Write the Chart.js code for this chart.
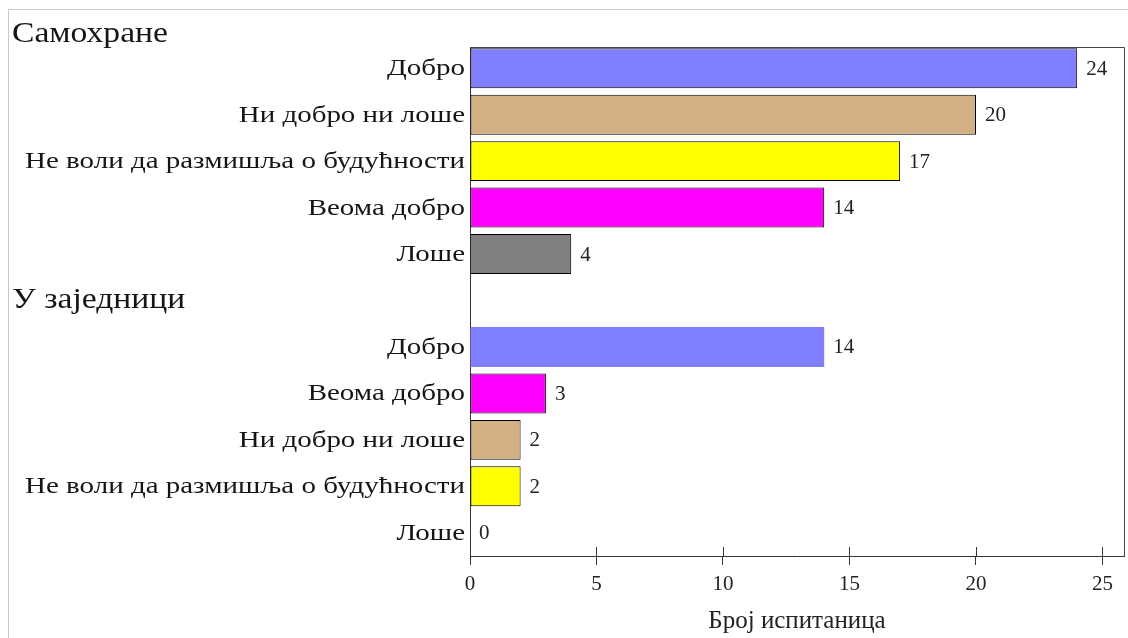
<!DOCTYPE html>
<html>
<head>
<meta charset="utf-8">
<script src="https://cdn.jsdelivr.net/npm/chart.js@4/dist/chart.umd.min.js"></script>
<style>
  html, body { margin: 0; padding: 0; background: #fff; }
  #wrap { width: 1128px; height: 638px; }
</style>
</head>
<body>
<div id="wrap"><canvas id="chart" width="1128" height="638"></canvas></div>
<script>
//Data
const groupTitles = ["Самохране", "У заједници"];
const singleLabels = ["Добро", "Ни добро ни лоше", "Не воли да размишља о будућности", "Веома добро", "Лоше"];
const singleValues = [24, 20, 17, 14, 4];
const singleColors = ["#8080ff", "#d2b083", "#ffff00", "#ff00ff", "#808080"];
const coupleLabels = ["Добро", "Веома добро", "Ни добро ни лоше", "Не воли да размишља о будућности", "Лоше"];
const coupleValues = [14, 3, 2, 2, 0];
const coupleColors = ["#8080ff", "#ff00ff", "#d2b083", "#ffff00", "#808080"];
const coupleBorders = [0, 1, 1, 1, 1];
const xTicks = [0, 5, 10, 15, 20, 25];
const xTitle = "Број испитаница";

const serif = "'Liberation Serif', 'DejaVu Serif', serif";

//Rows: first group, empty row for the second header, second group
const labels = [...singleLabels, "", ...coupleLabels];
const values = [...singleValues, null, ...coupleValues];
const colors = [...singleColors, "#fff", ...coupleColors];
const borders = [1, 1, 1, 1, 1, 0, ...coupleBorders];

//the original text is set a bit wider than Liberation Serif
function wideText(ctx, text, x, y, stretch) {
    ctx.save();
    ctx.translate(x, y);
    ctx.scale(stretch, 1);
    ctx.fillText(text, 0, 0);
    ctx.restore();
}

//Plugin for headers, labels, frame and inner tick marks
const extras = {
    id: "extras",
    beforeDraw(chart) {
        const ctx = chart.ctx;
        ctx.save();
        ctx.strokeStyle = "#c8c8c8";
        ctx.lineWidth = 1;
        ctx.beginPath();
        ctx.moveTo(8.5, 638);
        ctx.lineTo(8.5, 9.5);
        ctx.lineTo(1128, 9.5);
        ctx.stroke();
        ctx.restore();
    },
    afterDraw(chart) {
        const ctx = chart.ctx;
        const area = chart.chartArea;
        const x = chart.scales.x;
        const y = chart.scales.y;
        const frameTop = area.top + 2.5;
        ctx.save();

        //white out the axis stub above the frame
        ctx.fillStyle = "#fff";
        ctx.fillRect(area.left - 1, area.top - 1, 3, 3);

        //frame top and right
        ctx.strokeStyle = "#444";
        ctx.lineWidth = 1;
        ctx.beginPath();
        ctx.moveTo(area.left, frameTop);
        ctx.lineTo(area.right + 0.5, frameTop);
        ctx.lineTo(area.right + 0.5, area.bottom);
        ctx.stroke();

        //inner part of x ticks
        ctx.strokeStyle = "#333";
        xTicks.forEach((t) => {
            const px = Math.round(x.getPixelForValue(t)) + 0.5;
            ctx.beginPath();
            ctx.moveTo(px, area.bottom);
            ctx.lineTo(px, area.bottom - 9);
            ctx.stroke();
        });

        //category labels
        ctx.fillStyle = "#151515";
        ctx.font = "23px " + serif;
        ctx.textAlign = "right";
        ctx.textBaseline = "middle";
        labels.forEach((lab, i) => {
            if (!lab) return;
            wideText(ctx, lab, area.left - 5, y.getPixelForTick(i) + 1, 1.26);
        });

        //group headers
        ctx.textAlign = "left";
        ctx.font = "30px " + serif;
        wideText(ctx, groupTitles[0], 12, area.top - 11, 1.12);
        wideText(ctx, groupTitles[1], 12, y.getPixelForValue(5), 1.12);

        //value labels
        ctx.fillStyle = "#222";
        ctx.font = "21px " + serif;
        const meta = chart.getDatasetMeta(0);
        meta.data.forEach((bar, i) => {
            if (values[i] === null) return;
            ctx.fillText(String(values[i]), bar.x + 9, bar.y + 1);
        });
        ctx.restore();
    }
};

new Chart(document.getElementById("chart"), {
    type: "bar",
    data: {
        labels: labels,
        datasets: [
            {
                data: values,
                backgroundColor: colors,
                borderColor: "#000",
                borderWidth: borders,
                borderSkipped: false,
                barPercentage: 0.86,
                categoryPercentage: 1
            }
        ]
    },
    options: {
        indexAxis: "y",
        responsive: false,
        animation: false,
        layout: { padding: { top: 45, right: 4, bottom: 0, left: 0 } },
        plugins: {
            legend: { display: false },
            tooltip: { enabled: false }
        },
        scales: {
            x: {
                min: 0,
                max: 25.85,
                afterFit: (scale) => { scale.height = 82; },
                afterBuildTicks: (scale) => {
                    scale.ticks = xTicks.map((v) => ({ value: v }));
                },
                grid: {
                    drawOnChartArea: false,
                    drawTicks: true,
                    tickLength: 9,
                    color: "#333"
                },
                border: { display: true, color: "#333" },
                ticks: {
                    color: "#222",
                    padding: 7,
                    font: { family: serif, size: 21 }
                },
                title: {
                    display: true,
                    text: xTitle,
                    color: "#222",
                    font: { family: serif, size: 25 },
                    padding: { top: 0, bottom: 2 }
                }
            },
            y: {
                afterFit: (scale) => { scale.width = 470; },
                grid: { display: false },
                border: { display: true, color: "#333" },
                ticks: { display: false }
            }
        }
    },
    plugins: [extras]
});
</script>
</body>
</html>
